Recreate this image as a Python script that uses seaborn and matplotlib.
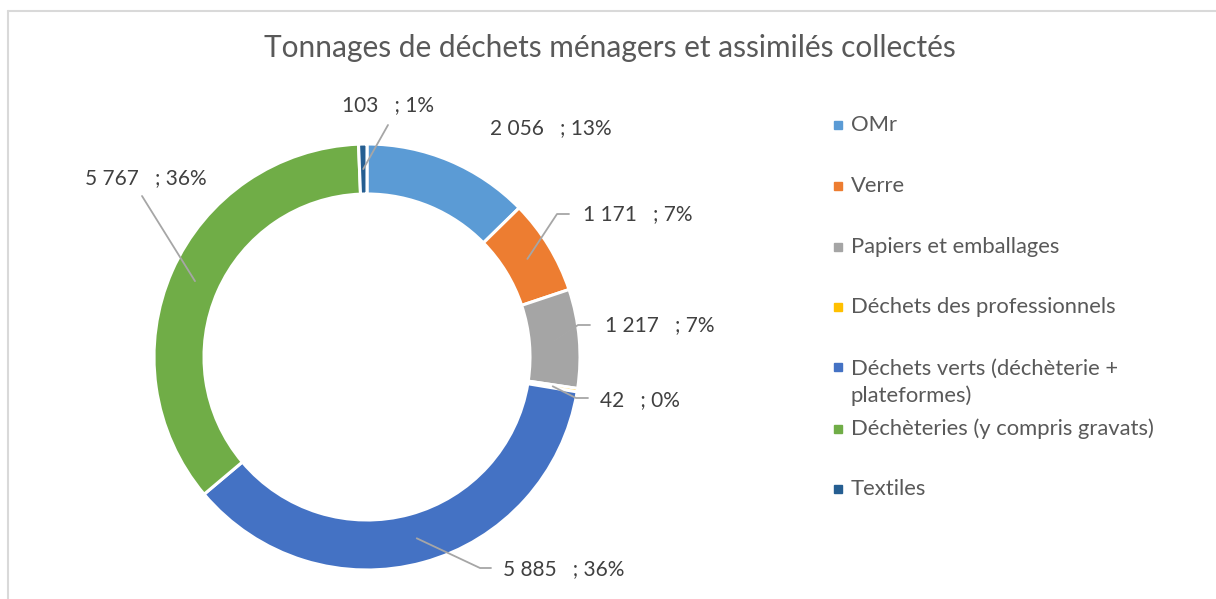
import matplotlib
matplotlib.use("Agg")
import matplotlib.pyplot as plt
import seaborn as sns
import numpy as np
from matplotlib.patches import Rectangle

# Data
categories = ["OMr", "Verre", "Papiers et emballages", "Déchets des professionnels",
              "Déchets verts (déchèterie +\nplateformes)", "Déchèteries (y compris gravats)",
              "Textiles"]
tonnages = [2056, 1171, 1217, 42, 5885, 5767, 103]
colors = ["#5B9BD5", "#ED7D31", "#A5A5A5", "#FFC000", "#4472C4", "#70AD47", "#255E91"]

sns.set_theme(style="white")
plt.rcParams["font.family"] = ["Lato", "DejaVu Sans"]

W, H = 1216, 599
fig = plt.figure(figsize=(W / 100, H / 100), dpi=100)
ax = fig.add_axes([0, 0, 1, 1])


def px(x, y):
    # image pixel -> axes data coords (y up)
    return x, H - y


cx, cy = px(367, 357)
R, ring = 213, 50

wedges, _ = ax.pie(tonnages, colors=sns.color_palette(colors), startangle=90,
                   counterclock=False, radius=R, center=(cx, cy),
                   wedgeprops=dict(width=ring, edgecolor="white", linewidth=2.2))
ax.set_xlim(0, W)
ax.set_ylim(0, H)
ax.set_aspect("equal")
ax.axis("off")

# frame of the chart area
ax.plot([8, W], [H - 11, H - 11], color="#D9D9D9", lw=1.5, clip_on=False)
ax.plot([8, 8], [H - 11, 0], color="#D9D9D9", lw=1.5, clip_on=False)

# title
ax.text(*px(610, 48), "Tonnages de déchets ménagers et assimilés collectés",
        ha="center", va="center", fontsize=21.5, color="#595959")

# data labels: (left x, center y) in image px, leader line points (None = no line)
total = sum(tonnages)
label_pos = [(490, 128), (583, 214), (605, 325), (600, 400), (503, 569), (85, 178), (342, 105)]
leaders = [None,
           [(557, 214), (569, 214)],
           [(578, 325), (590, 325)],
           [(576, 398), (588, 398)],
           [(480, 568), (491, 568)],
           [(142, 196)],
           [(388, 125)]]


def fmt(v):
    return f"{v:,}".replace(",", " ")


for w, v, pos, lead in zip(wedges, tonnages, label_pos, leaders):
    pct = round(100 * v / total)
    ax.text(*px(*pos), f"{fmt(v)}   ; {pct}%", ha="left", va="center",
            fontsize=15, color="#404040")
    if lead is not None:
        mid = np.deg2rad((w.theta1 + w.theta2) / 2)
        rm = R - ring / 2
        xs = [cx + rm * np.cos(mid)] + [px(*p)[0] for p in lead]
        ys = [cy + rm * np.sin(mid)] + [px(*p)[1] for p in lead]
        ax.plot(xs, ys, color="#A6A6A6", lw=1.3, zorder=3)

# legend drawn like the spreadsheet one
legend_y = [125, 186, 247, 307, 382.5, 429, 489]
for cat, col, y in zip(categories, colors, legend_y):
    yy = 367 if "\n" in cat else y
    ax.add_patch(Rectangle(px(834, yy + 4), 8, 8, color=col, clip_on=False))
    ax.text(*px(851, y), cat, ha="left", va="center", fontsize=15.8,
            color="#595959", linespacing=1.38)

fig.savefig("out.png", dpi=100)
